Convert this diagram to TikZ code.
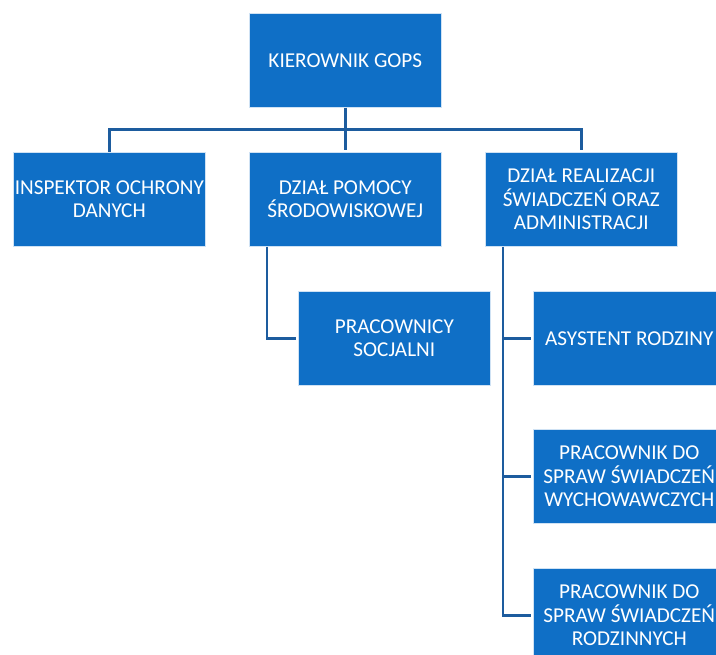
\documentclass[tikz,border=0pt]{standalone}
\usepackage{fontspec}
\setmainfont{Carlito}
\usepackage{xcolor}
\usetikzlibrary{positioning}
\usetikzlibrary{calc}
\definecolor{boxblue}{HTML}{0F6FC6}
\definecolor{lineblue}{HTML}{1D5C9E}
\tikzset{
	orgbox/.style={fill=boxblue, draw=white!80!boxblue, line width=0.6pt, minimum width=192pt, minimum height=94pt, anchor=north west, align=center, text=white, inner sep=0pt, font=\fontsize{21.2}{23.5}\selectfont},
	orgline/.style={draw=lineblue, line width=2.6pt, shorten >=2pt}
}

\begin{document}
\begin{tikzpicture}[x=1pt,y=-1pt]
		\clip (0,0) rectangle (716,655);
		%coordinates
		\coordinate (LLkier) at (249,13);
		\coordinate (LLiod)  at (13,152);
		\coordinate (LLdps)  at (249,152);
		\coordinate (LLdra)  at (485,152);
		\coordinate (LLps)   at (298,291);
		\coordinate (LLasr)  at (533,291);
		\coordinate (LLpsw)  at (533,429);
		\coordinate (LLpsr)  at (533,568);
		
		%nodes
		\node[orgbox] (kier) at (LLkier) {KIEROWNIK GOPS};
		\node[orgbox] (iod) at (LLiod) {INSPEKTOR OCHRONY\\DANYCH};
		\node[orgbox] (dps) at (LLdps) {DZIAŁ POMOCY\\ŚRODOWISKOWEJ};
		\node[orgbox] (dra) at (LLdra) {DZIAŁ REALIZACJI\\ŚWIADCZEŃ ORAZ\\ADMINISTRACJI};
		\node[orgbox] (ps) at (LLps) {PRACOWNICY\\SOCJALNI};
		\node[orgbox] (asr) at (LLasr) {ASYSTENT RODZINY};
		\node[orgbox] (psw) at (LLpsw) {PRACOWNIK DO\\SPRAW ŚWIADCZEŃ\\WYCHOWAWCZYCH};
		\node[orgbox] (psr) at (LLpsr) {PRACOWNIK DO\\SPRAW ŚWIADCZEŃ\\RODZINNYCH};
		
		%connectors
		\coordinate (bus) at ($(kier.south)!0.5!(dps.north)$);
		\draw[orgline] (kier.south) -- (dps.north);
		\draw[orgline] (iod.north) |- (bus) -| (dra.north);
		\draw[orgline] ([xshift=18pt]dps.south west) |- (ps.west);
		
		\coordinate (trunk) at ([xshift=18pt]dra.south west);
		\draw[orgline] (trunk) |- (psr.west);
		\foreach \n in {asr,psw}
			\draw[orgline] (trunk |- \n.west) -- (\n.west);
\end{tikzpicture}
\end{document}
